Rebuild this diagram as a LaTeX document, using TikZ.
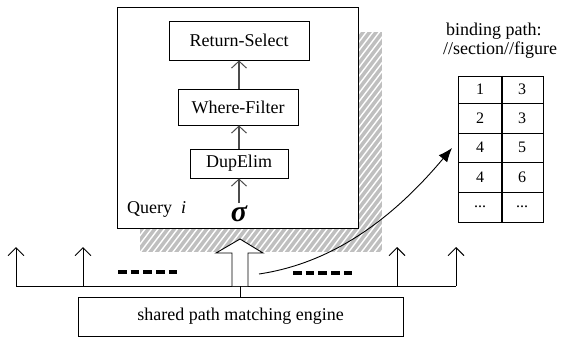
\documentclass[tikz,border=0pt]{standalone}
\usepackage{fontspec}
\setmainfont{Liberation Serif}
\usetikzlibrary{arrows.meta}
\begin{document}
\begin{tikzpicture}[x=1pt,y=-1pt,
  txt/.style={font=\fontsize{18}{21}\selectfont, inner sep=0pt},
  box/.style={txt, draw=black, line width=0.9pt, fill=white},
  barb/.style={-{Straight Barb[length=8pt,width=16pt,line width=0.9pt]}, line width=0.9pt},
  ibarb/.style={-{Straight Barb[length=7pt,width=15pt,line width=1pt]}, line width=1.1pt, draw=black!70},
  dots/.style={line width=3.5pt, dash pattern=on 8.5pt off 4.2pt},
  cell/.style={txt, font=\fontsize{16}{19}\selectfont}
]
\useasboundingbox (0,0) rectangle (561,339);

% hatched shadow
\fill[black!25] (140,32) rectangle (382,252);
\begin{scope}
  \clip (140,32) rectangle (382,252);
  \foreach \i in {0,...,66} {
    \draw[white, line width=1.4pt] ({140-170+\i*6.5},254) -- ++(172,-226);
  }
\end{scope}

% query box
\node[box, minimum width=241pt, minimum height=221pt] (query) at (237.5,117.5) {};
\node[box, minimum width=140pt, minimum height=39pt] (ret) at (239,40.5) {Return-Select};
\node[box, minimum width=120pt, minimum height=36pt] (where) at (238,107) {Where-Filter};
\node[box, minimum width=98pt, minimum height=29pt] (dup) at (239,163.5) {DupElim};
\node[txt, font=\fontsize{30}{30}\selectfont\bfseries\itshape, anchor=base] (sigma) at (239,221) {σ};
\node[txt, anchor=base west] (qi) at (127,213) {Query\hspace{9pt}\textit{i}};
\coordinate (sigtop) at (239,203);
\draw[ibarb] (sigtop) -- (dup.south -| sigtop);
\draw[ibarb] (dup.north -| sigtop) -- (where.south -| sigtop);
\draw[ibarb] (where.north -| sigtop) -- (ret.south -| sigtop);

% baseline and up arrows
\coordinate (bl) at (16,286);
\coordinate (br) at (456,286);
\draw[line width=0.9pt] (bl) -- (br);
\coordinate (a1) at (16,247);
\coordinate (a2) at (83,247);
\coordinate (a3) at (397,247);
\coordinate (a4) at (456,247);
\draw[barb] (bl) -- (a1);
\draw[barb] (83,286) -- (a2);
\draw[barb] (397,286) -- (a3);
\draw[barb] (br) -- (a4);

% dashes
\draw[dots] (118,272) -- (178,272);
\draw[dots] (293,273) -- (354,273);

% big hollow arrow
\draw[fill=white, line width=0.9pt] (232,286) -- (232,253) -- (216,253) -- (240,239) -- (263,253) -- (248,253) -- (248,286);

% engine
\node[box, minimum width=325pt, minimum height=39pt] (engine) at (240.5,316.5) {shared path matching engine};
\draw[line width=0.9pt] (240,286) -- (engine.north -| 240,0);

% table
\begin{scope}[line width=0.9pt]
  \draw (458,76) rectangle (543,222);
  \foreach \y in {103,133,162,192} { \draw (458,\y) -- (543,\y); }
  \draw[line width=1.5pt] (502,76) -- (502,222);
\end{scope}
\node[cell] (c11) at (480,89.5) {1};
\node[cell] (c12) at (522,89.5) {3};
\node[cell] (c21) at (480,118) {2};
\node[cell] (c22) at (522,118) {3};
\node[cell] (c31) at (480,147.5) {4};
\node[cell] (c32) at (522,147.5) {5};
\node[cell] (c41) at (480,177) {4};
\node[cell] (c42) at (522,177) {6};
\node[cell] (c51) at (480,207) {...};
\node[cell] (c52) at (522,207) {...};
\coordinate (tbl) at (452,148);

\node[txt, anchor=base west] (bp) at (446,36) {binding path:};
\node[txt, anchor=base west] (sf) at (443,55) {//section//figure};

% curved arrow
\coordinate (cs) at (259,274);
\draw[line width=0.9pt, -{Latex[length=14pt,width=11pt]}] (cs) .. controls (340,262) and (400,210) .. (tbl);
\end{tikzpicture}
\end{document}
